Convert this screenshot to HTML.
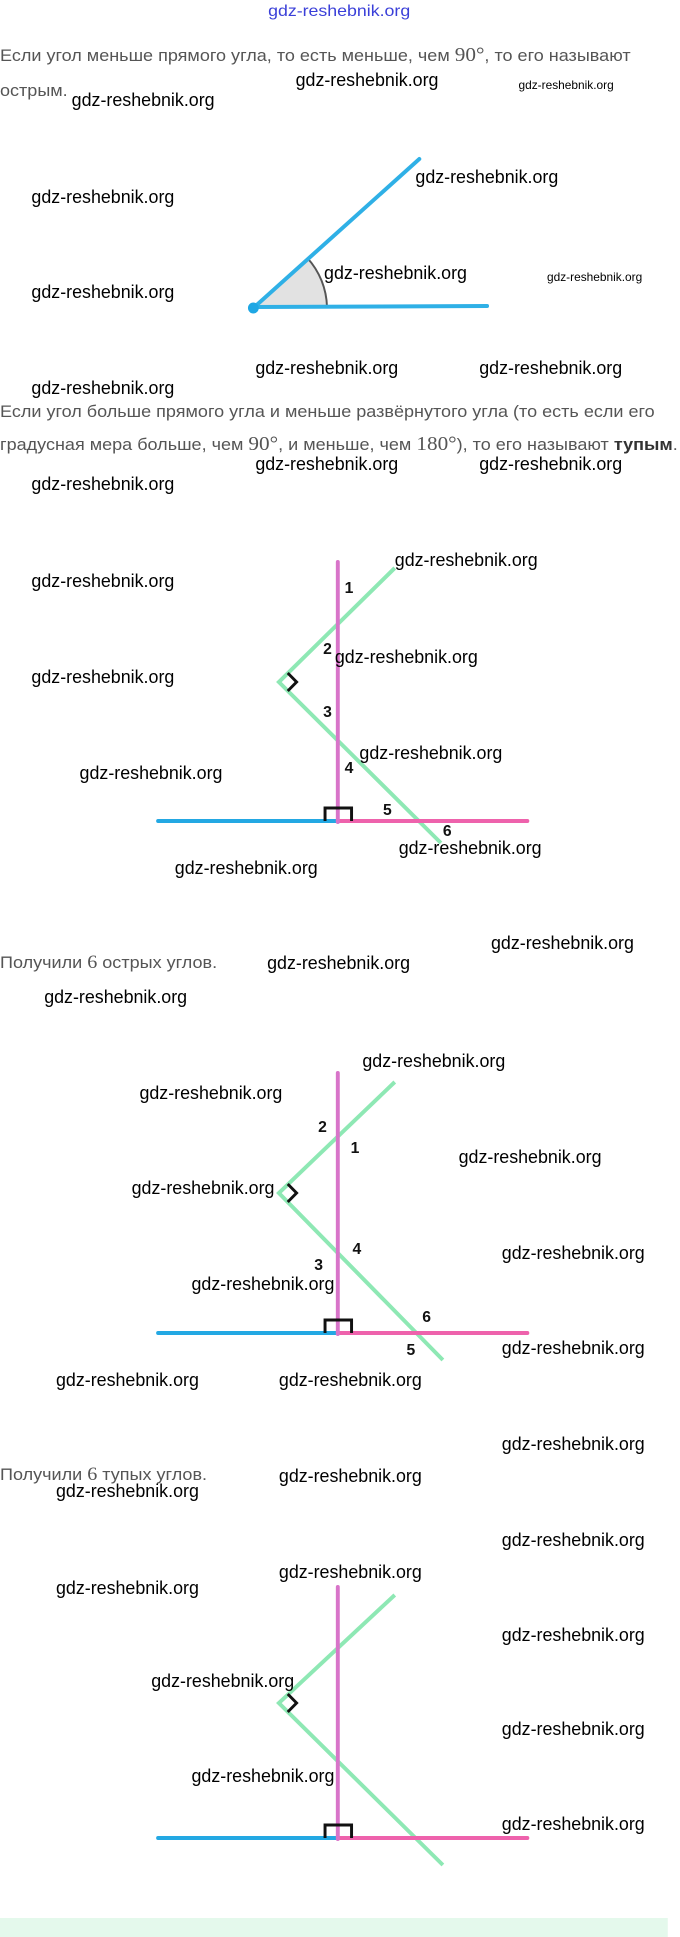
<!DOCTYPE html>
<html><head><meta charset="utf-8"><style>
html,body{margin:0;padding:0;background:#fff}
body{width:680px;height:1937px;position:relative;overflow:hidden;font-family:"Liberation Sans","DejaVu Sans",sans-serif}
#wrap{position:absolute;left:0;top:0;width:680px;height:1937px;transform:scaleX(0.982);transform-origin:0 0}
.w{position:absolute;font-size:18px;line-height:22px;color:#000;white-space:nowrap;transform:scaleX(1.01);transform-origin:left center}
.t{position:absolute;left:0;font-size:17px;line-height:24px;color:#555;white-space:nowrap;transform:scaleX(1.08);transform-origin:left center}
.n{position:absolute;font-size:16px;line-height:18px;font-weight:bold;color:#111}
svg{position:absolute;left:0;top:0}
</style></head><body><div id="wrap">
<svg width="680" height="1937" viewBox="0 0 680 1937">
<path d="M258,308 L313,258 A75,75 0 0 1 333,307 Z" fill="#e2e2e2" stroke="none"/>
<path d="M313,258 A75,75 0 0 1 333,307" fill="none" stroke="#555" stroke-width="2"/>
<line x1="258" y1="308" x2="427" y2="159" stroke="#2fb0e6" stroke-width="4" stroke-linecap="round"/>
<line x1="258" y1="307" x2="496" y2="306" stroke="#2fb0e6" stroke-width="4" stroke-linecap="round"/>
<circle cx="258" cy="308" r="5.5" fill="#1ea7e4"/>
<g>
<polyline points="402,568 284,682 449,843" fill="none" stroke="#8ee8b4" stroke-width="4"/>
<polyline points="293,673 302,682 293,691" fill="none" stroke="#111" stroke-width="3"/>
<line x1="161" y1="821" x2="344" y2="821" stroke="#23a8e3" stroke-width="4" stroke-linecap="round"/>
<line x1="344" y1="821" x2="537" y2="821" stroke="#ee62ac" stroke-width="4" stroke-linecap="round"/>
<line x1="344" y1="562" x2="344" y2="822" stroke="#d874c9" stroke-width="4" stroke-linecap="round"/>
<polyline points="331,821 331,808 358,808 358,821" fill="none" stroke="#111" stroke-width="3"/>
</g>
<g>
<polyline points="402,1082 284,1193 451,1360" fill="none" stroke="#8ee8b4" stroke-width="4"/>
<polyline points="293,1184 302,1193 293,1202" fill="none" stroke="#111" stroke-width="3"/>
<line x1="161" y1="1333" x2="344" y2="1333" stroke="#23a8e3" stroke-width="4" stroke-linecap="round"/>
<line x1="344" y1="1333" x2="537" y2="1333" stroke="#ee62ac" stroke-width="4" stroke-linecap="round"/>
<line x1="344" y1="1073" x2="344" y2="1334" stroke="#d874c9" stroke-width="4" stroke-linecap="round"/>
<polyline points="331,1333 331,1320 358,1320 358,1333" fill="none" stroke="#111" stroke-width="3"/>
</g>
<g transform="translate(0,5)">
<polyline points="402,1590 284,1698 451,1860" fill="none" stroke="#8ee8b4" stroke-width="4"/>
<polyline points="293,1689 302,1698 293,1707" fill="none" stroke="#111" stroke-width="3"/>
<line x1="161" y1="1833" x2="344" y2="1833" stroke="#23a8e3" stroke-width="4" stroke-linecap="round"/>
<line x1="344" y1="1833" x2="537" y2="1833" stroke="#ee62ac" stroke-width="4" stroke-linecap="round"/>
<line x1="344" y1="1582" x2="344" y2="1834" stroke="#d874c9" stroke-width="4" stroke-linecap="round"/>
<polyline points="331,1833 331,1820 358,1820 358,1833" fill="none" stroke="#111" stroke-width="3"/>
</g>
<rect x="0" y="1918" width="700" height="19" fill="#e4f9ec"/>
</svg>

<div class="w" style="left:273px;top:1px;color:#3a3fd8;font-size:16px;transform:scaleX(1.13)">gdz-reshebnik.org</div>

<div class="t" style="top:43px">Если угол меньше прямого угла, то есть меньше, чем <span style="font-family:'Liberation Serif',serif;font-size:20px">90°</span>, то его называют</div>
<div class="t" style="top:79px">острым.</div>
<div class="t" style="top:400px">Если угол больше прямого угла и меньше развёрнутого угла (то есть если его</div>
<div class="t" style="top:432px">градусная мера больше, чем <span style="font-family:'Liberation Serif',serif;font-size:20px">90°</span>, и меньше, чем <span style="font-family:'Liberation Serif',serif;font-size:20px">180°</span>), то его называют <b style="color:#333">тупым</b>.</div>
<div class="t" style="top:951px">Получили <span style="font-family:'Liberation Serif',serif;font-size:19px">6</span> острых углов.</div>
<div class="t" style="top:1463px">Получили <span style="font-family:'Liberation Serif',serif;font-size:19px">6</span> тупых углов.</div>

<div class="n" style="left:351px;top:580px">1</div>
<div class="n" style="left:329px;top:641px">2</div>
<div class="n" style="left:329px;top:704px">3</div>
<div class="n" style="left:351px;top:760px">4</div>
<div class="n" style="left:390px;top:802px">5</div>
<div class="n" style="left:451px;top:823px">6</div>

<div class="n" style="left:324px;top:1119px">2</div>
<div class="n" style="left:357px;top:1140px">1</div>
<div class="n" style="left:359px;top:1241px">4</div>
<div class="n" style="left:320px;top:1257px">3</div>
<div class="n" style="left:430px;top:1309px">6</div>
<div class="n" style="left:414px;top:1342px">5</div>

<div class="w" style="left:301px;top:69px">gdz-reshebnik.org</div>
<div class="w" style="left:528px;top:74px;font-size:12px">gdz-reshebnik.org</div>
<div class="w" style="left:73px;top:89px">gdz-reshebnik.org</div>
<div class="w" style="left:32px;top:186px">gdz-reshebnik.org</div>
<div class="w" style="left:423px;top:166px">gdz-reshebnik.org</div>
<div class="w" style="left:330px;top:262px">gdz-reshebnik.org</div>
<div class="w" style="left:557px;top:266px;font-size:12px">gdz-reshebnik.org</div>
<div class="w" style="left:32px;top:281px">gdz-reshebnik.org</div>
<div class="w" style="left:260px;top:357px">gdz-reshebnik.org</div>
<div class="w" style="left:488px;top:357px">gdz-reshebnik.org</div>
<div class="w" style="left:32px;top:377px">gdz-reshebnik.org</div>
<div class="w" style="left:260px;top:453px">gdz-reshebnik.org</div>
<div class="w" style="left:488px;top:453px">gdz-reshebnik.org</div>
<div class="w" style="left:32px;top:473px">gdz-reshebnik.org</div>

<div class="w" style="left:402px;top:549px">gdz-reshebnik.org</div>
<div class="w" style="left:32px;top:570px">gdz-reshebnik.org</div>
<div class="w" style="left:341px;top:646px">gdz-reshebnik.org</div>
<div class="w" style="left:32px;top:666px">gdz-reshebnik.org</div>
<div class="w" style="left:366px;top:742px">gdz-reshebnik.org</div>
<div class="w" style="left:81px;top:762px">gdz-reshebnik.org</div>
<div class="w" style="left:406px;top:837px">gdz-reshebnik.org</div>
<div class="w" style="left:178px;top:857px">gdz-reshebnik.org</div>

<div class="w" style="left:500px;top:932px">gdz-reshebnik.org</div>
<div class="w" style="left:272px;top:952px">gdz-reshebnik.org</div>
<div class="w" style="left:45px;top:986px">gdz-reshebnik.org</div>
<div class="w" style="left:369px;top:1050px">gdz-reshebnik.org</div>
<div class="w" style="left:142px;top:1082px">gdz-reshebnik.org</div>
<div class="w" style="left:467px;top:1146px">gdz-reshebnik.org</div>
<div class="w" style="left:134px;top:1177px">gdz-reshebnik.org</div>
<div class="w" style="left:511px;top:1242px">gdz-reshebnik.org</div>
<div class="w" style="left:195px;top:1273px">gdz-reshebnik.org</div>
<div class="w" style="left:511px;top:1337px">gdz-reshebnik.org</div>
<div class="w" style="left:57px;top:1369px">gdz-reshebnik.org</div>
<div class="w" style="left:284px;top:1369px">gdz-reshebnik.org</div>

<div class="w" style="left:511px;top:1433px">gdz-reshebnik.org</div>
<div class="w" style="left:284px;top:1465px">gdz-reshebnik.org</div>
<div class="w" style="left:57px;top:1480px">gdz-reshebnik.org</div>
<div class="w" style="left:511px;top:1529px">gdz-reshebnik.org</div>
<div class="w" style="left:284px;top:1561px">gdz-reshebnik.org</div>
<div class="w" style="left:57px;top:1577px">gdz-reshebnik.org</div>
<div class="w" style="left:511px;top:1624px">gdz-reshebnik.org</div>
<div class="w" style="left:154px;top:1670px">gdz-reshebnik.org</div>
<div class="w" style="left:511px;top:1718px">gdz-reshebnik.org</div>
<div class="w" style="left:195px;top:1765px">gdz-reshebnik.org</div>
<div class="w" style="left:511px;top:1813px">gdz-reshebnik.org</div>
</div></body></html>
